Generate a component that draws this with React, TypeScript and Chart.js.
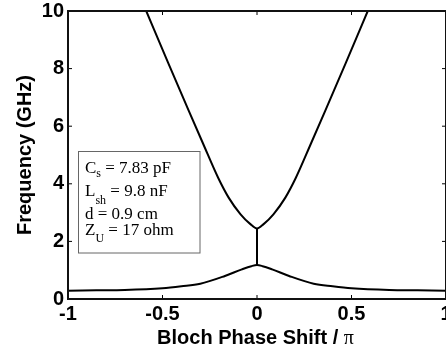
import React, { useEffect, useRef } from "react";
import { Chart, registerables } from "chart.js";

Chart.register(...registerables);

// ---- data ----
const xTickValues = [-1, -0.5, 0, 0.5, 1];
const xTickLabels = ["-1", "-0.5", "0", "0.5", "1"];
const yTickValues = [0, 2, 4, 6, 8, 10];
const yTickLabels = ["0", "2", "4", "6", "8", "10"];

const upperPhase = [-0.586, -0.47, -0.362, -0.285, -0.205, -0.15, -0.088, -0.035, 0, 0.035, 0.088, 0.15, 0.205, 0.285, 0.362, 0.47, 0.586];
const upperFreq = [10, 8.2, 6.55, 5.39, 4.2, 3.52, 2.95, 2.6, 2.45, 2.6, 2.95, 3.52, 4.2, 5.39, 6.55, 8.2, 10];

const lowerPhase = [-1, -0.85, -0.7, -0.5, -0.4, -0.3, -0.17, -0.08, -0.03, 0, 0.03, 0.08, 0.17, 0.3, 0.4, 0.5, 0.7, 0.85, 1];
const lowerFreq = [0.29, 0.3, 0.31, 0.37, 0.44, 0.53, 0.8, 1.03, 1.14, 1.18, 1.14, 1.03, 0.8, 0.53, 0.44, 0.37, 0.31, 0.3, 0.29];

const gapPhase = [0, 0];
const gapFreq = [1.18, 2.45];

const xTitleMain = "Bloch Phase Shift / ";
const xTitlePi = "π";
const yTitle = "Frequency (GHz)";

const paramMain = ["C", "L", "d = 0.9 cm", "Z"];
const paramSub = ["s", "sh", "", "U"];
const paramRest = [" = 7.83 pF", " = 9.8 nF", "", " = 17 ohm"];

const SANS = "'Liberation Sans', Arial, Helvetica, sans-serif";
const SERIF = "'Liberation Serif', 'Times New Roman', serif";

function toPoints(xs: number[], ys: number[]) {
  return xs.map((x, i) => ({ x, y: ys[i] }));
}

const decorPlugin = {
  id: "decor",
  afterDatasetsDraw(chart: any) {
    const { ctx, chartArea: a, scales } = chart;
    const xs = scales.x;
    const ys = scales.y;
    ctx.save();
    // inward ticks
    ctx.strokeStyle = "#000";
    ctx.lineWidth = 1;
    ctx.beginPath();
    xTickValues.forEach((v) => {
      const px = xs.getPixelForValue(v);
      ctx.moveTo(px, a.bottom);
      ctx.lineTo(px, a.bottom - 4);
      ctx.moveTo(px, a.top);
      ctx.lineTo(px, a.top + 4);
    });
    yTickValues.forEach((v) => {
      const py = ys.getPixelForValue(v);
      ctx.moveTo(a.left, py);
      ctx.lineTo(a.left + 4, py);
      ctx.moveTo(a.right, py);
      ctx.lineTo(a.right - 4, py);
    });
    ctx.stroke();
    // frame
    ctx.lineWidth = 2;
    ctx.strokeStyle = "#111";
    ctx.strokeRect(a.left, a.top, a.right - a.left, a.bottom - a.top);

    // parameter box
    ctx.fillStyle = "#fff";
    ctx.fillRect(78.5, 151.5, 121.5, 101.5);
    ctx.lineWidth = 1;
    ctx.strokeStyle = "#666";
    ctx.strokeRect(78.5, 151.5, 121.5, 101.5);

    const baselines = [172.7, 195.5, 219.3, 235.3];
    const subOffsets = [4.5, 8, 6.5, 6.5];
    ctx.fillStyle = "#000";
    ctx.textBaseline = "alphabetic";
    ctx.textAlign = "left";
    paramMain.forEach((m, i) => {
      let x = 85;
      const b = baselines[i];
      ctx.font = `17px ${SERIF}`;
      ctx.fillText(m, x, b);
      x += ctx.measureText(m).width;
      if (paramSub[i]) {
        ctx.font = `12px ${SERIF}`;
        ctx.fillText(paramSub[i], x, b + subOffsets[i]);
        x += ctx.measureText(paramSub[i]).width;
      }
      if (paramRest[i]) {
        ctx.font = `17px ${SERIF}`;
        ctx.fillText(paramRest[i], x, b);
      }
    });

    // x title
    ctx.font = `bold 20px ${SANS}`;
    const w1 = ctx.measureText(xTitleMain).width;
    ctx.font = `20px ${SERIF}`;
    const w2 = ctx.measureText(xTitlePi).width;
    const cx = (a.left + a.right) / 2 - 1.5;
    let tx = cx - (w1 + w2) / 2;
    ctx.font = `bold 20px ${SANS}`;
    ctx.fillText(xTitleMain, tx, 343.5);
    ctx.font = `20px ${SERIF}`;
    ctx.fillText(xTitlePi, tx + w1, 343.5);

    // y title
    ctx.save();
    ctx.translate(31, (a.top + a.bottom) / 2);
    ctx.rotate(-Math.PI / 2);
    ctx.textAlign = "center";
    ctx.font = `bold 20px ${SANS}`;
    ctx.fillText(yTitle, 0, 0);
    ctx.restore();

    ctx.restore();
  },
};

export default function App() {
  const ref = useRef<HTMLCanvasElement | null>(null);
  useEffect(() => {
    if (!ref.current) return;
    const lineStyle = {
      borderColor: "#000",
      borderWidth: 2,
      pointRadius: 0,
      showLine: true,
      fill: false,
    };
    const chart = new Chart(ref.current, {
      type: "scatter",
      data: {
        datasets: [
          { ...lineStyle, data: toPoints(upperPhase, upperFreq), cubicInterpolationMode: "monotone" },
          { ...lineStyle, data: toPoints(lowerPhase, lowerFreq), cubicInterpolationMode: "monotone" },
          { ...lineStyle, data: toPoints(gapPhase, gapFreq), tension: 0 },
        ] as any,
      },
      options: {
        animation: false,
        responsive: false,
        devicePixelRatio: 1,
        layout: { padding: { left: 0, right: 0, top: 11, bottom: 0 } },
        plugins: { legend: { display: false }, tooltip: { enabled: false } },
        scales: {
          x: {
            type: "linear",
            min: -1,
            max: 1,
            afterBuildTicks: (s: any) => {
              s.ticks = xTickValues.map((v) => ({ value: v }));
            },
            afterFit: (s: any) => {
              s.height = 55;
              s.paddingLeft = 0;
              s.paddingRight = 0;
            },
            ticks: {
              callback: (v: any) => {
                const i = xTickValues.indexOf(Number(v));
                return i >= 0 ? xTickLabels[i] : "";
              },
              font: { family: SANS, weight: "bold", size: 20 },
              color: "#000",
              padding: 3,
              maxRotation: 0,
              autoSkip: false,
            },
            grid: { display: false, drawTicks: false },
            border: { display: false },
          },
          y: {
            type: "linear",
            min: 0,
            max: 10,
            afterBuildTicks: (s: any) => {
              s.ticks = yTickValues.map((v) => ({ value: v }));
            },
            afterFit: (s: any) => {
              s.width = 68;
              s.paddingTop = 0;
              s.paddingBottom = 0;
            },
            ticks: {
              callback: (v: any) => {
                const i = yTickValues.indexOf(Number(v));
                return i >= 0 ? yTickLabels[i] : "";
              },
              font: { family: SANS, weight: "bold", size: 20 },
              color: "#000",
              padding: 4,
              autoSkip: false,
            },
            grid: { display: false, drawTicks: false },
            border: { display: false },
          },
        },
      } as any,
      plugins: [decorPlugin],
    });
    return () => chart.destroy();
  }, []);
  return (
    <div style={{ position: "absolute", left: 0, top: 0, width: 446, height: 354, overflow: "hidden" }}>
      <canvas ref={ref} width={446} height={354} style={{ display: "block" }} />
    </div>
  );
}
